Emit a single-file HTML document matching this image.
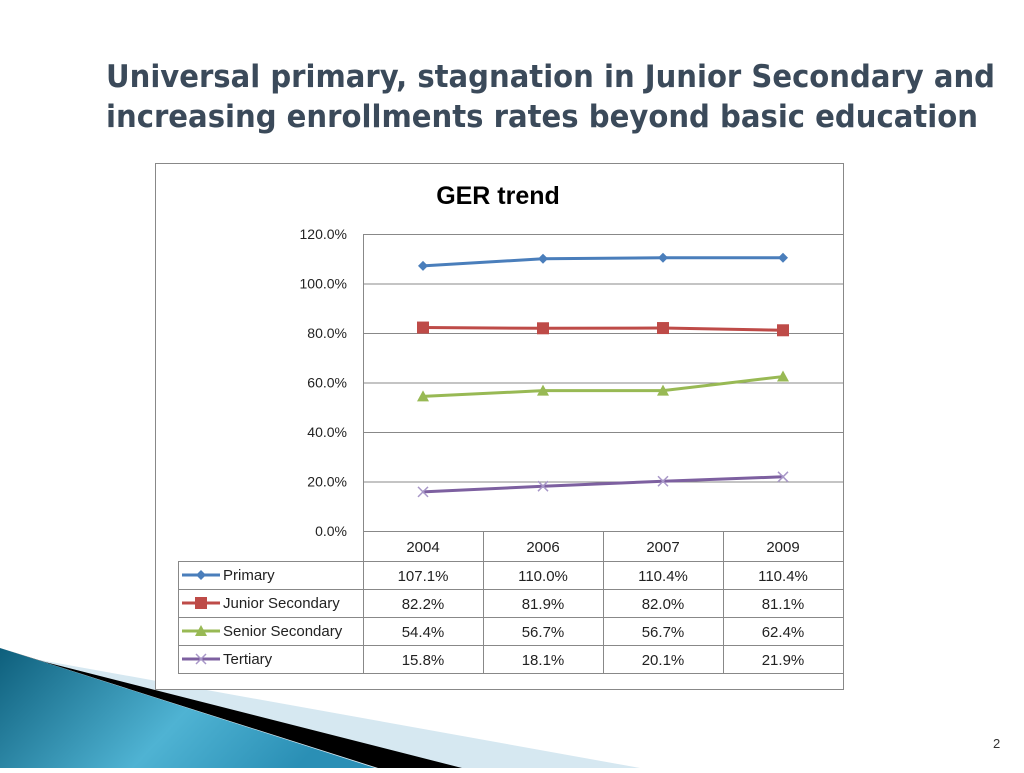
<!DOCTYPE html>
<html><head><meta charset="utf-8"><style>
body{margin:0;width:1024px;height:768px;background:#fff;overflow:hidden;font-family:"Liberation Sans",sans-serif}
</style></head><body>
<svg width="1024" height="768" viewBox="0 0 1024 768" xmlns="http://www.w3.org/2000/svg">
<defs>
<linearGradient id="bg" x1="0" y1="0" x2="1" y2="0.3">
<stop offset="0" stop-color="#0e5f7c"/><stop offset="0.6" stop-color="#4fb3d3"/><stop offset="1" stop-color="#2a8fb5"/>
</linearGradient>
</defs>
<g fill="#3b4a5a" font-size="31" font-weight="bold" font-family="'DejaVu Sans Condensed','Liberation Sans',sans-serif">
<text x="106" y="87" textLength="889" lengthAdjust="spacingAndGlyphs">Universal primary, stagnation in Junior Secondary and</text>
<text x="106" y="127" textLength="872" lengthAdjust="spacingAndGlyphs">increasing enrollments rates beyond basic education</text>
</g>
<g>
<polygon points="40,660 640,768 0,768" fill="#d6e8f1"/>
<polygon points="0,648 375,768 0,768" fill="url(#bg)"/>
<polygon points="0,648 45,662 462,768 378,768" fill="#000"/>
</g>
<text x="993" y="748" font-size="13" fill="#333">2</text>
<rect x="155.5" y="163.5" width="688" height="526" fill="#fff" stroke="#888"/>
<text x="498" y="204" text-anchor="middle" font-size="25" font-weight="bold" fill="#000">GER trend</text>
<g id="chart"></g>
</svg>
<script>
const categories=["2004","2006","2007","2009"];
const seriesNames=["Primary","Junior Secondary","Senior Secondary","Tertiary"];
const primary=[107.1,110.0,110.4,110.4];
const junior=[82.2,81.9,82.0,81.1];
const senior=[54.4,56.7,56.7,62.4];
const tertiary=[15.8,18.1,20.1,21.9];
const yTicks=[0,20,40,60,80,100,120];
const colors=["#4a7ebb","#be4b48","#98b954","#7d60a0"];
const markers=["diamond","square","triangle","x"];
const series=[primary,junior,senior,tertiary];
const NS="http://www.w3.org/2000/svg";
const g=document.getElementById('chart');
const L=363,R=843,T=234,B=531,colW=(R-L)/categories.length;
const y=v=>B-(v/120)*(B-T);
const x=i=>L+colW*(i+0.5);
function el(t,a,p){const e=document.createElementNS(NS,t);for(const k in a)e.setAttribute(k,a[k]);(p||g).appendChild(e);return e;}
yTicks.forEach(v=>{
 const ln=el('line',{x1:L,x2:R,y1:y(v)+0.5,y2:y(v)+0.5,stroke:'#888','stroke-width':1});
 
 
 const t=el('text',{x:347,y:y(v)+5,'text-anchor':'end','font-size':14,fill:'#222'});
 t.textContent=v.toFixed(1)+'%';
 
 
});
el('line',{x1:L+0.5,x2:L+0.5,y1:T,y2:B,stroke:'#888'});
const rowH=28,tTop=B,tL=178;
for(let i=0;i<=categories.length;i++){const xx=L+colW*i+0.5;el('line',{x1:xx,x2:xx,y1:tTop,y2:tTop+30+rowH*4,stroke:'#888'});}
el('line',{x1:tL+0.5,x2:tL+0.5,y1:tTop+30,y2:tTop+30+rowH*4,stroke:'#888'});
for(let r=0;r<=4;r++){const yy=tTop+30+rowH*r+0.5;el('line',{x1:tL,x2:R,y1:yy,y2:yy,stroke:'#888'});}
categories.forEach((c,i)=>{const t=el('text',{x:x(i),y:tTop+21,'text-anchor':'middle','font-size':15,fill:'#222'});t.textContent=c;
 
 });
function marker(type,cx,cy,col,parent){
 if(type==='diamond')el('polygon',{points:`${cx},${cy-5} ${cx+5},${cy} ${cx},${cy+5} ${cx-5},${cy}`,fill:col},parent);
 else if(type==='square')el('rect',{x:cx-6,y:cy-6,width:12,height:12,fill:col},parent);
 else if(type==='triangle')el('polygon',{points:`${cx},${cy-6} ${cx+6},${cy+5} ${cx-6},${cy+5}`,fill:col},parent);
 else{el('line',{x1:cx-5,y1:cy-5,x2:cx+5,y2:cy+5,stroke:'#a897c8','stroke-width':1.5},parent);el('line',{x1:cx-5,y1:cy+5,x2:cx+5,y2:cy-5,stroke:'#a897c8','stroke-width':1.5},parent);}
}
series.forEach((s,si)=>{
 const sg=el('g',{});
 
 
 el('polyline',{points:s.map((v,i)=>x(i)+','+y(v)).join(' '),fill:'none',stroke:colors[si],'stroke-width':3},sg);
 s.forEach((v,i)=>marker(markers[si],x(i),y(v),colors[si],sg));
 const ry=tTop+30+rowH*si+rowH/2;
 el('line',{x1:182,x2:220,y1:ry,y2:ry,stroke:colors[si],'stroke-width':3},sg);
 marker(markers[si],201,ry,colors[si],sg);
 const lt=el('text',{x:223,y:ry+5,'font-size':15,fill:'#222'},sg);lt.textContent=seriesNames[si];
 
 
 s.forEach((v,i)=>{const t=el('text',{x:x(i),y:ry+6,'text-anchor':'middle','font-size':15,fill:'#222'},sg);t.textContent=v.toFixed(1)+'%';
  
  });
});
</script>
</body></html>
